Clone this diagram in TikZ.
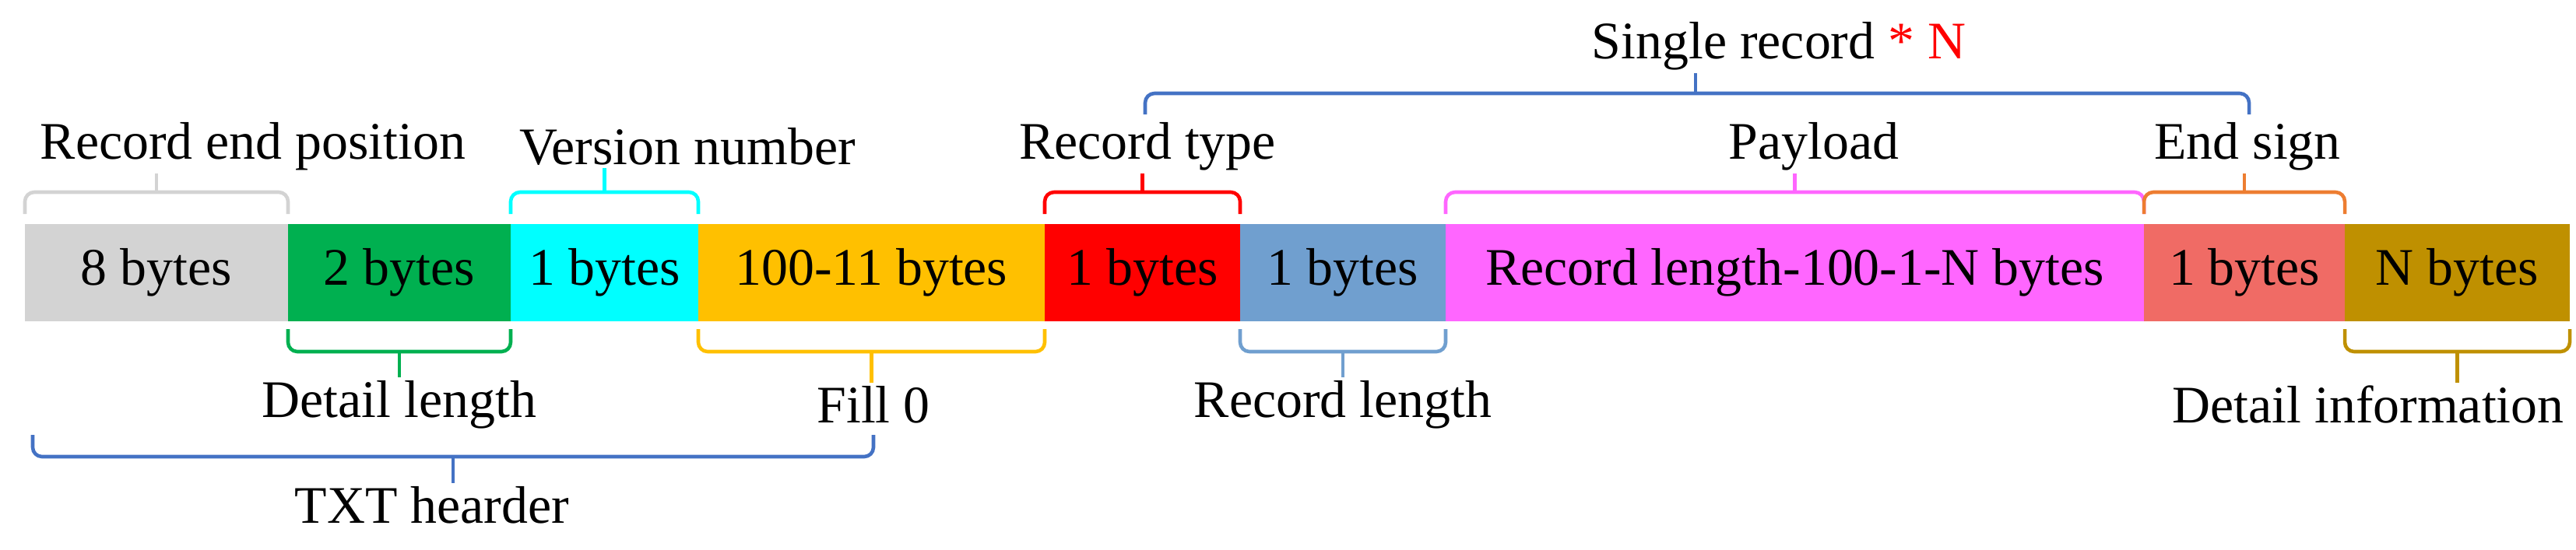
\documentclass[tikz,border=0pt]{standalone}
\usepackage{fontspec}
\setmainfont{Liberation Serif}
\usepackage{tikz}

\definecolor{cGray}{HTML}{D3D3D3}
\definecolor{cGreen}{HTML}{00B050}
\definecolor{cCyan}{HTML}{00FFFF}
\definecolor{cAmber}{HTML}{FFC000}
\definecolor{cRed}{HTML}{FF0000}
\definecolor{cSteel}{HTML}{709FCF}
\definecolor{cPink}{HTML}{FF66FF}
\definecolor{cSalmon}{HTML}{F06B65}
\definecolor{cGold}{HTML}{BF9000}
\definecolor{cBlue}{HTML}{4472C4}
\definecolor{cOrange}{HTML}{ED7D31}

\tikzset{
  field/.style={minimum height=1.25cm, inner sep=0pt, outer sep=0pt, font=\fontsize{19.3}{23}\selectfont},
  lbl/.style={inner sep=1pt, font=\fontsize{19.3}{23}\selectfont},
  brace/.style={line width=1.3pt, rounded corners=0.12cm}
}

\begin{document}
\begin{tikzpicture}[x=1cm,y=-1cm]
    \useasboundingbox (0,0) rectangle (33.09,7.06);
    % the record fields
    \node[field,fill=cGray,minimum width=3.38cm] (pos) at (2.01,3.505) {8 bytes};
    \node[field,fill=cGreen,minimum width=2.86cm] (dlen) at (5.13,3.505) {2 bytes};
    \node[field,fill=cCyan,minimum width=2.41cm] (ver) at (7.765,3.505) {1 bytes};
    \node[field,fill=cAmber,minimum width=4.45cm] (fill) at (11.195,3.505) {100-11 bytes};
    \node[field,fill=cRed,minimum width=2.51cm] (rtype) at (14.675,3.505) {1 bytes};
    \node[field,fill=cSteel,minimum width=2.64cm] (rlen) at (17.25,3.505) {1 bytes};
    \node[field,fill=cPink,minimum width=8.97cm] (load) at (23.055,3.505) {Record length-100-1-N bytes};
    \node[field,fill=cSalmon,minimum width=2.58cm] (esign) at (28.83,3.505) {1 bytes};
    \node[field,fill=cGold,minimum width=2.89cm] (info) at (31.565,3.505) {N bytes};

    % labels
    \node[lbl] (tpos) at (3.25,1.88) {Record end position};
    \node[lbl] (tver) at (8.83,1.88) {Version number};
    \node[lbl] (ttype) at (14.74,1.88) {Record type};
    \node[lbl] (tload) at (23.30,1.88) {Payload};
    \node[lbl] (tsign) at (28.87,1.88) {End sign};
    \node[lbl] (tsingle) at (22.85,0.59) {Single record {\color{red}* N}};
    \node[lbl] (tdlen) at (5.13,5.20) {Detail length};
    \node[lbl] (tfill) at (11.22,5.20) {Fill 0};
    \node[lbl] (trlen) at (17.25,5.20) {Record length};
    \node[lbl] (tinfo) at (30.42,5.20) {Detail information};
    \node[lbl] (ttxt) at (5.55,6.49) {TXT hearder};
    \coordinate (srmid) at (21.78,1.20);
    \coordinate (txtmid) at (5.82,5.87);

    % braces above
    \draw[brace,cGray] (pos.north west) ++(0,-0.13) -- ++(0,-0.28) -| ([yshift=1.3mm]pos.north east);
    \draw[brace,cGray] ([yshift=4.1mm]pos.north) -- (tpos.south -| pos.north);
    \draw[brace,cCyan] (ver.north west) ++(0,-0.13) -- ++(0,-0.28) -| ([yshift=1.3mm]ver.north east);
    \draw[brace,cCyan] ([yshift=4.1mm]ver.north) -- (tver.south -| ver.north);
    \draw[brace,cRed] (rtype.north west) ++(0,-0.13) -- ++(0,-0.28) -| ([yshift=1.3mm]rtype.north east);
    \draw[brace,cRed] ([yshift=4.1mm]rtype.north) -- (ttype.south -| rtype.north);
    \draw[brace,cPink] (load.north west) ++(0,-0.13) -- ++(0,-0.28) -| ([yshift=1.3mm]load.north east);
    \draw[brace,cPink] ([yshift=4.1mm]load.north) -- (tload.south -| load.north);
    \draw[brace,cOrange] (esign.north west) ++(0,-0.13) -- ++(0,-0.28) -| ([yshift=1.3mm]esign.north east);
    \draw[brace,cOrange] ([yshift=4.1mm]esign.north) -- (tsign.south -| esign.north);
    \draw[brace,cBlue] (14.71,1.47) -- (14.71,1.20) -- (28.89,1.20) -- (28.89,1.47);
    \draw[brace,cBlue] (srmid) -- (tsingle.south -| srmid);

    % braces below
    \draw[brace,cGreen] (dlen.south west) ++(0,0.10) -- ++(0,0.29) -| ([yshift=-1mm]dlen.south east);
    \draw[brace,cGreen] ([yshift=-3.9mm]dlen.south) -- (tdlen.north -| dlen.south);
    \draw[brace,cAmber] (fill.south west) ++(0,0.10) -- ++(0,0.29) -| ([yshift=-1mm]fill.south east);
    \draw[brace,cAmber] ([yshift=-3.9mm]fill.south) -- (tfill.north -| fill.south);
    \draw[brace,cSteel] (rlen.south west) ++(0,0.10) -- ++(0,0.29) -| ([yshift=-1mm]rlen.south east);
    \draw[brace,cSteel] ([yshift=-3.9mm]rlen.south) -- (trlen.north -| rlen.south);
    \draw[brace,cGold] (info.south west) ++(0,0.10) -- ++(0,0.29) -| ([yshift=-1mm]info.south east);
    \draw[brace,cGold] ([yshift=-3.9mm]info.south) -- (tinfo.north -| info.south);
    \draw[brace,cBlue] (0.42,5.59) -- (0.42,5.87) -- (11.22,5.87) -- (11.22,5.59);
    \draw[brace,cBlue] (txtmid) -- (ttxt.north -| txtmid);
\end{tikzpicture}
\end{document}
